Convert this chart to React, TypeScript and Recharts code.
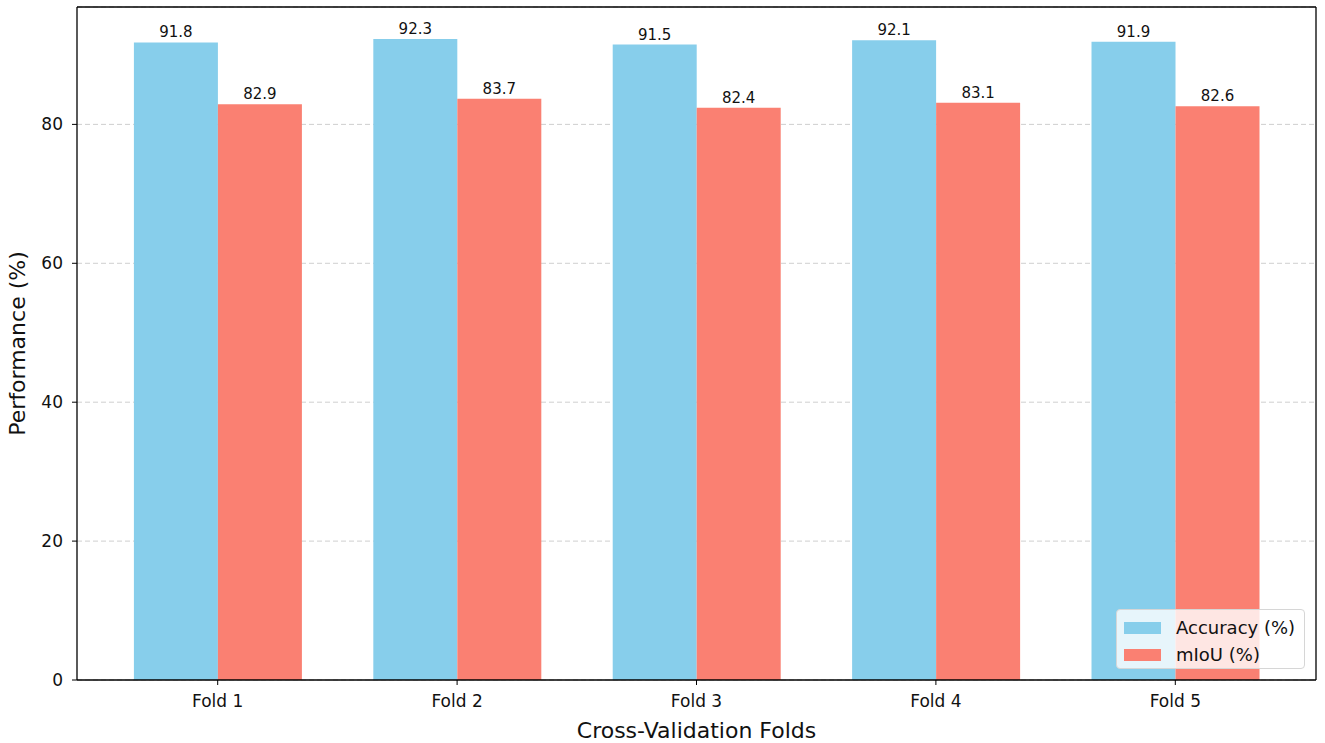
import { BarChart, Bar, XAxis, YAxis, CartesianGrid, Legend, LabelList } from 'recharts';

const folds = ['Fold 1', 'Fold 2', 'Fold 3', 'Fold 4', 'Fold 5'];
const accuracy = [91.8, 92.3, 91.5, 92.1, 91.9];
const miou = [82.9, 83.7, 82.4, 83.1, 82.6];
const yTicks = [0, 20, 40, 60, 80];

const data = folds.map((fold, i) => ({ fold, accuracy: accuracy[i], miou: miou[i] }));

const FONT = '"DejaVu Sans", sans-serif';
const BLUE = '#87CEEB';
const RED = '#FA8072';
const AXIS_LINE = { stroke: '#000', strokeWidth: 1.3 };

function LegendBox() {
  const items = [
    { label: 'Accuracy (%)', color: BLUE },
    { label: 'mIoU (%)', color: RED },
  ];
  return (
    <div
      style={{
        width: 189,
        height: 60,
        boxSizing: 'border-box',
        background: 'rgba(255,255,255,0.8)',
        border: '1px solid #d6d6d6',
        borderRadius: 4,
        padding: '4px 0 0 7px',
        fontFamily: FONT,
        fontSize: 18,
        color: '#111',
      }}
    >
      {items.map((it) => (
        <div key={it.label} style={{ display: 'flex', alignItems: 'center', height: 27 }}>
          <span style={{ width: 37, height: 12, background: it.color, marginRight: 15, display: 'inline-block' }} />
          <span>{it.label}</span>
        </div>
      ))}
    </div>
  );
}

export default function App() {
  return (
    <div style={{ position: 'absolute', left: 0, top: 0, background: '#fff' }}>
      <BarChart
        width={1325}
        height={743}
        data={data}
        margin={{ top: 6, right: 8, bottom: 0, left: 0 }}
        barCategoryGap="15%"
        barGap={0}
      >
        <CartesianGrid vertical={false} stroke="#cfcfcf" strokeDasharray="5 3" />
        <XAxis
          dataKey="fold"
          padding={{ left: 21, right: 21 }}
          height={63}
          tickSize={5}
          tickMargin={10}
          axisLine={AXIS_LINE}
          tickLine={{ stroke: '#000' }}
          tick={{ fill: '#111', fontSize: 17, fontFamily: FONT }}
          label={{ value: 'Cross-Validation Folds', position: 'center', dy: 19, style: { fill: '#111', fontSize: 22, fontFamily: FONT } }}
        />
        <XAxis xAxisId="top" dataKey="fold" orientation="top" height={1} tick={false} tickLine={false} axisLine={AXIS_LINE} />
        <YAxis
          width={77}
          domain={[0, 96.9]}
          ticks={yTicks}
          allowDataOverflow
          tickSize={5}
          tickMargin={9}
          axisLine={AXIS_LINE}
          tickLine={{ stroke: '#000' }}
          tick={{ fill: '#111', fontSize: 17, fontFamily: FONT }}
          label={{ value: 'Performance (%)', angle: -90, position: 'center', dx: -21, style: { fill: '#111', fontSize: 22, fontFamily: FONT, textAnchor: 'middle' } }}
        />
        <YAxis yAxisId="right" orientation="right" width={1} domain={[0, 96.9]} ticks={yTicks} tick={false} tickLine={false} axisLine={AXIS_LINE} />
        <Legend
          layout="horizontal"
          verticalAlign="middle"
          align="center"
          wrapperStyle={{ left: 1116, top: 609, width: 189, height: 60 }}
          content={() => <LegendBox />}
        />
        <Bar dataKey="accuracy" name="Accuracy (%)" fill={BLUE} isAnimationActive={false}>
          <LabelList dataKey="accuracy" position="top" offset={5} style={{ fill: '#111', fontSize: 15, fontFamily: FONT }} />
        </Bar>
        <Bar dataKey="miou" name="mIoU (%)" fill={RED} isAnimationActive={false}>
          <LabelList dataKey="miou" position="top" offset={5} style={{ fill: '#111', fontSize: 15, fontFamily: FONT }} />
        </Bar>
      </BarChart>
    </div>
  );
}
